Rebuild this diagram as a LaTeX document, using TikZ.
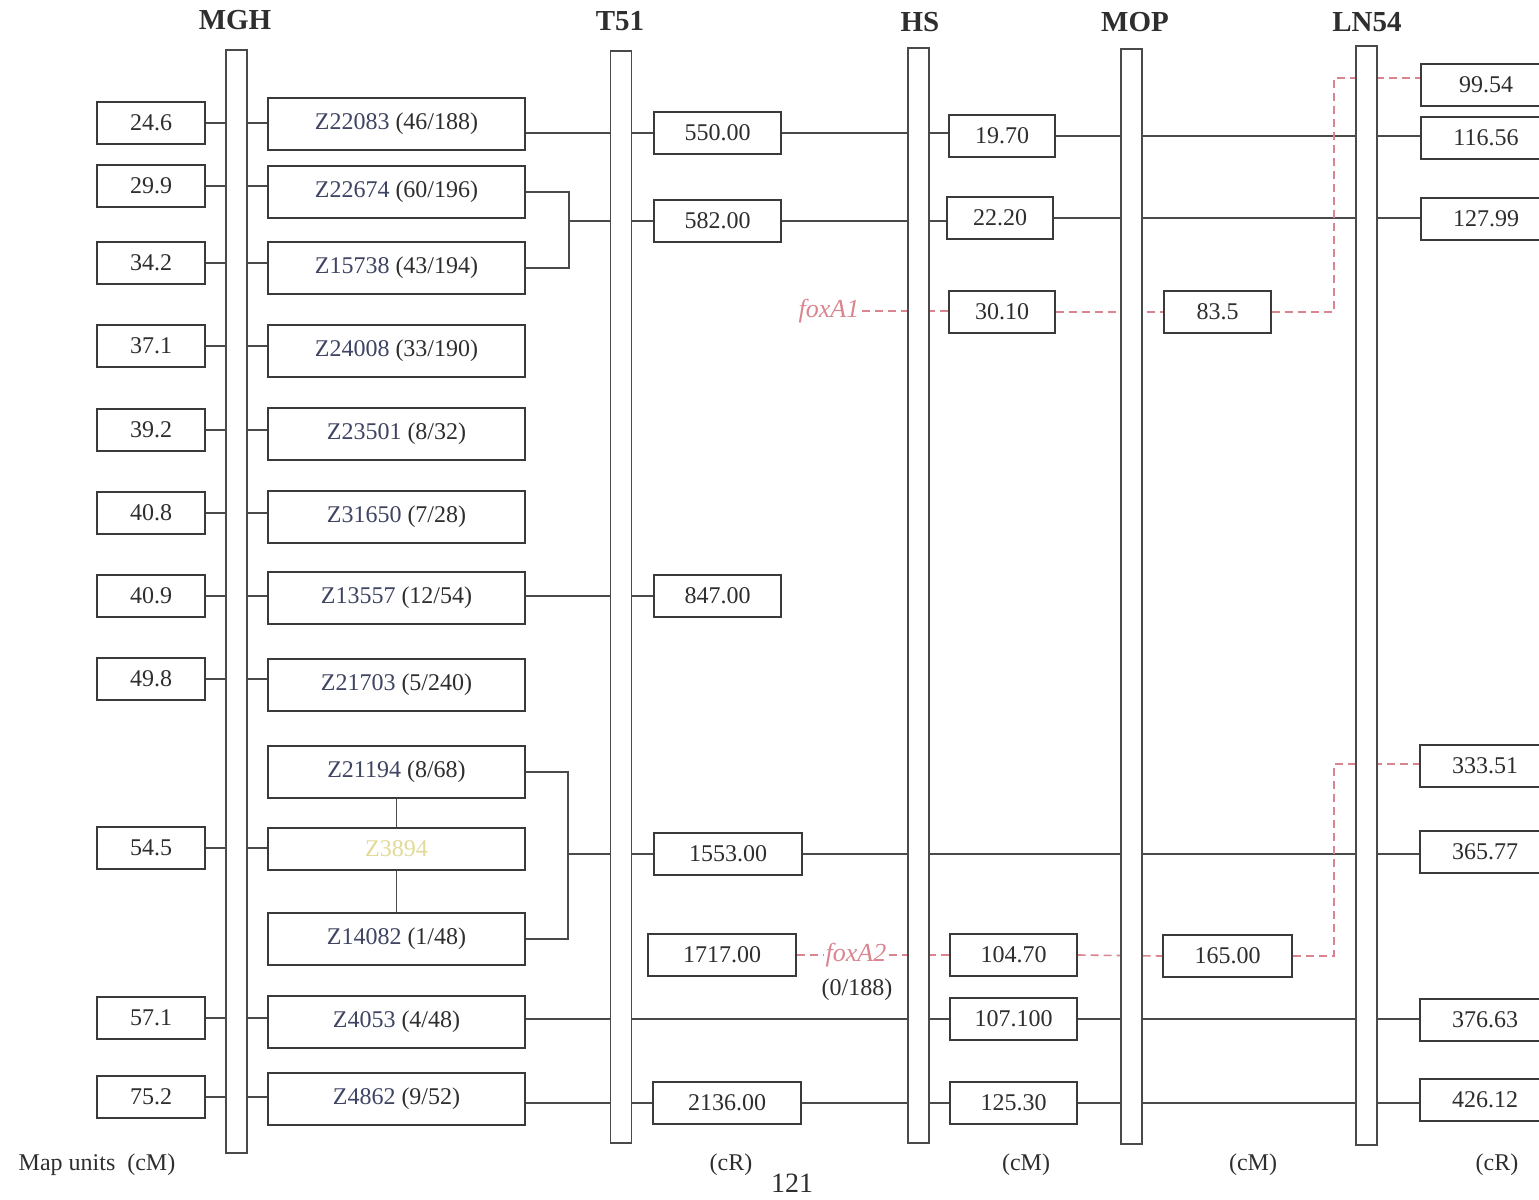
\documentclass[tikz,border=0pt]{standalone}
\usepackage{fontspec}
\setmainfont{Liberation Serif}
\usepackage{xcolor}
\usepackage{tikz}
\usetikzlibrary{positioning, backgrounds, calc}
\definecolor{linegray} {HTML}{4A4A4A}
\definecolor{boxgray}  {HTML}{3A3A3A}
\definecolor{markblue} {HTML}{3F4463}
\definecolor{textgray} {HTML}{2E2E2E}
\definecolor{foxpink}  {HTML}{D9848E}
\definecolor{paleyel}  {HTML}{E2DA96}
\newcommand{\mkname}[2]{\textcolor{markblue}{#1} (#2)}
\tikzset{
  chrom/.style={
    rectangle, draw=linegray, fill=white, line width=0.8pt,
    minimum width=10.5pt, minimum height=#1, inner sep=0pt
  },
  cmbox/.style={
    rectangle, draw=boxgray, fill=white, line width=0.7pt,
    minimum width=54pt, minimum height=21pt, inner sep=0pt,
    font=\fontsize{12}{14}\selectfont, text=textgray
  },
  mkbox/.style={
    rectangle, draw=boxgray, fill=white, line width=0.7pt,
    minimum width=128.5pt, minimum height=#1, inner sep=0pt,
    font=\fontsize{12}{14}\selectfont, text=textgray
  },
  valbox/.style={
    rectangle, draw=boxgray, fill=white, line width=0.7pt,
    minimum width=#1, minimum height=21pt, inner sep=0pt,
    font=\fontsize{12}{14}\selectfont, text=textgray
  },
  head/.style={font=\fontsize{14.5}{16}\selectfont\bfseries, text=textgray},
  unitlabel/.style={font=\fontsize{12}{14}\selectfont, text=textgray},
  link/.style={draw=linegray, line width=0.7pt},
  foxlink/.style={draw=foxpink, dash pattern=on 4pt off 2.5pt, line width=0.8pt},
  foxlabel/.style={font=\fontsize{13}{15}\selectfont\itshape, text=foxpink, inner sep=1pt}
}

\begin{document}
\begin{tikzpicture}[x=0.5pt, y=-0.5pt]
  \useasboundingbox (0,0) rectangle (1539,1200);

  % linkage groups
  \node[chrom=551.5pt] (mgh)  at (236.5,601.5) {};
  \node[chrom=546pt]   (t51)  at (621,597) {};
  \node[chrom=547.5pt] (hs)   at (918.5,595.5) {};
  \node[chrom=547.5pt] (mop)  at (1131.5,596.5) {};
  \node[chrom=549.5pt] (ln54) at (1366.5,595.5) {};

  \node[head] (hmgh)  at (235,20)  {MGH};
  \node[head] (ht51)  at (620,21)  {T51};
  \node[head] (hhs)   at (920,22)  {HS};
  \node[head] (hmop)  at (1135,22) {MOP};
  \node[head] (hln54) at (1367,22) {LN54};

  % MGH positions
  \foreach \i/\v/\y in {1/24.6/123, 2/29.9/186, 3/34.2/263, 4/37.1/346,
                        5/39.2/430, 6/40.8/513, 7/40.9/596, 8/49.8/679,
                        9/54.5/848, 10/57.1/1018, 11/75.2/1097}
    \node[cmbox] (cm\i) at (151,\y) {\v};

  % markers
  \foreach \i/\z/\r/\y in {1/Z22083/{46/188}/124, 2/Z22674/{60/196}/192,
                           3/Z15738/{43/194}/268, 4/Z24008/{33/190}/351,
                           5/Z23501/{8/32}/434, 6/Z31650/{7/28}/517,
                           7/Z13557/{12/54}/598, 8/Z21703/{5/240}/685,
                           9/Z21194/{8/68}/772, 11/Z14082/{1/48}/939,
                           12/Z4053/{4/48}/1022, 13/Z4862/{9/52}/1099}
    \node[mkbox=26pt] (m\i) at (396.5,\y) {\mkname{\z}{\r}};
  \node[mkbox=21pt, text=paleyel] (m10) at (396.5,849) {Z3894};

  % T51 values
  \node[valbox=63.5pt] (t550)  at (717.5,133) {550.00};
  \node[valbox=63.5pt] (t582)  at (717.5,221) {582.00};
  \node[valbox=63.5pt] (t847)  at (717.5,596) {847.00};
  \node[valbox=74pt]   (t1553) at (728,854)   {1553.00};
  \node[valbox=74pt]   (t1717) at (722,955)   {1717.00};
  \node[valbox=74pt]   (t2136) at (727,1103)  {2136.00};

  % HS values
  \node[valbox=53pt]   (h1970)   at (1002,136)    {19.70};
  \node[valbox=53pt]   (h2220)   at (1000,218)    {22.20};
  \node[valbox=53pt]   (h3010)   at (1002,312)    {30.10};
  \node[valbox=63.5pt] (h10470)  at (1013.5,955)  {104.70};
  \node[valbox=63.5pt] (h107100) at (1013.5,1019) {107.100};
  \node[valbox=63.5pt] (h12530)  at (1013.5,1103) {125.30};

  % MOP values
  \node[valbox=53.5pt] (o835)   at (1217.5,312) {83.5};
  \node[valbox=64.5pt] (o16500) at (1227.5,956) {165.00};

  % LN54 values
  \node[valbox=65pt] (l9954)  at (1486,85)   {99.54};
  \node[valbox=65pt] (l11656) at (1486,138)  {116.56};
  \node[valbox=65pt] (l12799) at (1486,219)  {127.99};
  \node[valbox=65pt] (l33351) at (1485,766)  {333.51};
  \node[valbox=65pt] (l36577) at (1485,852)  {365.77};
  \node[valbox=65pt] (l37663) at (1485,1020) {376.63};
  \node[valbox=65pt] (l42612) at (1485,1100) {426.12};

  % foxA genes
  \node[foxlabel] (fa1) at (829,311) {foxA1};
  \node[foxlabel] (fa2) at (856,955) {foxA2};
  \node[unitlabel] (fa2r) at (857,990) {(0/188)};

  \coordinate (j1) at (569,221);
  \coordinate (j2) at (568,854);
  \coordinate (k1) at (1334,78);
  \coordinate (k2) at (1334,764);

  \begin{scope}[on background layer]
    \foreach \c/\m in {cm1/m1, cm2/m2, cm3/m3, cm4/m4, cm5/m5, cm6/m6,
                       cm7/m7, cm8/m8, cm9/m10, cm10/m12, cm11/m13}
      \draw[link] (\c.east) -- (\c.east -| \m.west);

    \draw[link] (t550.west -| m1.east) -- (t550.west);
    \draw[link] (t550.east) -- (t550.east -| h1970.west);
    \draw[link] (h1970.east) -- (h1970.east -| l11656.west);

    \draw[link] (m2.east) -| (j1) |- (m3.east);
    \draw[link] (j1) -- (t582.west);
    \draw[link] (t582.east) -- (t582.east -| h2220.west);
    \draw[link] (h2220.east) -- (h2220.east -| l12799.west);

    \draw[link] (t847.west -| m7.east) -- (t847.west);

    \draw[link] (m9.south) -- (m10.north);
    \draw[link] (m10.south) -- (m11.north);
    \draw[link] (m9.east) -| (j2) |- (m11.east);
    \draw[link] (j2) -- (t1553.west);
    \draw[link] (t1553.east) -- (t1553.east -| l36577.west);

    \draw[link] (h107100.west -| m12.east) -- (h107100.west);
    \draw[link] (h107100.east) -- (h107100.east -| l37663.west);

    \draw[link] (t2136.west -| m13.east) -- (t2136.west);
    \draw[link] (t2136.east) -- (h12530.west);
    \draw[link] (h12530.east) -- (h12530.east -| l42612.west);

    \draw[foxlink] (fa1.east) -- (fa1.east -| h3010.west);
    \draw[foxlink] (h3010.east) -- (o835.west);
    \draw[foxlink] (o835.east) -| (k1) -- (k1 -| l9954.west);

    \draw[foxlink] (t1717.east) -- (fa2.west);
    \draw[foxlink] (fa2.east) -- (fa2.east -| h10470.west);
    \draw[foxlink] (h10470.east) -- (o16500.west);
    \draw[foxlink] (o16500.east) -| (k2) -- (k2 -| l33351.west);
  \end{scope}

  % units
  \node[unitlabel] (u1) at (97,1165)   {Map units~~(cM)};
  \node[unitlabel] (u2) at (731,1165)  {(cR)};
  \node[unitlabel] (u3) at (1026,1165) {(cM)};
  \node[unitlabel] (u4) at (1253,1165) {(cM)};
  \node[unitlabel] (u5) at (1497,1165) {(cR)};
  \node[font=\fontsize{14}{16}\selectfont, text=textgray] (pg) at (792,1183) {121};
\end{tikzpicture}
\end{document}
